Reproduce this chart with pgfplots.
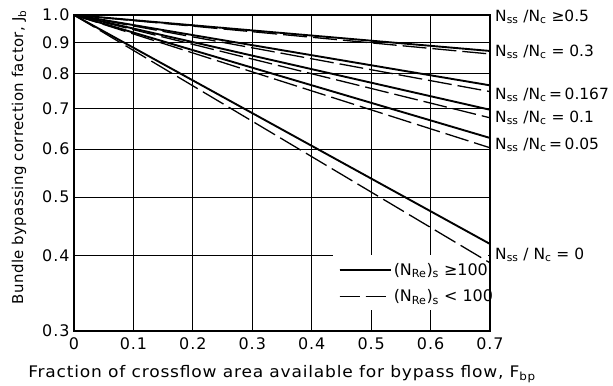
\documentclass[border=0pt]{standalone}
\usepackage{fontspec}
\setmainfont{DejaVu Sans}
\newfontfamily\widefont[LetterSpace=6]{DejaVu Sans}
\newfontfamily\xlabfont[LetterSpace=5,FakeStretch=1.07]{DejaVu Sans}
\newfontfamily\ylabfont[LetterSpace=2.5]{DejaVu Sans}
\usepackage{pgfplots}
\pgfplotsset{compat=1.18}

\begin{document}
\begin{tikzpicture}
\begin{axis}[
    width=416bp, height=316bp, scale only axis,
    ymode=log,
    xmin=0, xmax=0.7, ymin=0.3, ymax=1.0,
    xtick={0,0.1,0.2,0.3,0.4,0.5,0.6,0.7},
    xticklabels={0,0.1,0.2,0.3,0.4,0.5,0.6,0.7},
    ytick={0.3,0.4,0.5,0.6,0.7,0.8,0.9,1.0},
    yticklabels={0.3,0.4,0.5,0.6,0.7,0.8,0.9,1.0},
    minor ytick={},
    grid=major,
    major grid style={black, line width=0.8pt},
    major tick length=0pt,
    axis line style={line width=1.6pt},
    ticklabel style={font=\widefont\fontsize{16}{18}\selectfont},
    xticklabel style={yshift=-3bp},
    yticklabel style={xshift=-1bp},
    xlabel={Fraction of crossflow area available for bypass flow, F\textsubscript{bp}},
    xlabel style={font=\xlabfont\fontsize{16}{18}\selectfont, yshift=-9bp},
    ylabel={Bundle bypassing correction factor, J\textsubscript{b}},
    ylabel style={font=\ylabfont\fontsize{15}{17}\selectfont, at={(ticklabel cs:0.55)}, yshift=9bp},
    clip=false,
    legend style={at={(axis cs:0.44,0.4)}, anchor=north west, draw=none, fill=none,
        font=\fontsize{16}{18}\selectfont, row sep=9bp, yshift=-3.5bp},
    legend cell align=left,
    legend image code/.code={
        \draw[#1] (0bp,0bp) -- (47bp,0bp);
        \path (0bp,0bp) -- (51bp,0bp);
    },
]
% white box behind the key
\fill[white] (axis cs:0.436,0.4) rectangle (axis cs:0.697,0.325);

\addlegendimage{black, line width=2.1pt}
\addlegendentry{(N\textsubscript{Re})\textsubscript{s} ≥100}
\addlegendimage{black, line width=1.3pt, dash pattern=on 20bp off 6bp}
\addlegendentry{(N\textsubscript{Re})\textsubscript{s} < 100}

% Nss/Nc >= 0.5
\addplot[black, line width=1.9pt, forget plot] coordinates {(0,1.0) (0.7,1.0)};
% Nss/Nc = 0.3
\addplot[black, line width=1.9pt, forget plot] coordinates {(0,1.0) (0.7,0.872)};
\addplot[black, line width=1.3pt, dash pattern=on 24bp off 6bp, forget plot] coordinates {(0,1.0) (0.7,0.862)};
% Nss/Nc = 0.167
\addplot[black, line width=1.9pt, forget plot] coordinates {(0,1.0) (0.7,0.765)};
\addplot[black, line width=1.3pt, dash pattern=on 24bp off 6bp, forget plot] coordinates {(0,1.0) (0.7,0.747)};
% Nss/Nc = 0.1
\addplot[black, line width=1.9pt, forget plot] coordinates {(0,1.0) (0.7,0.697)};
\addplot[black, line width=1.3pt, dash pattern=on 24bp off 6bp, forget plot] coordinates {(0,1.0) (0.7,0.676)};
% Nss/Nc = 0.05
\addplot[black, line width=1.9pt, forget plot] coordinates {(0,1.0) (0.7,0.626)};
\addplot[black, line width=1.3pt, dash pattern=on 24bp off 6bp, forget plot] coordinates {(0,1.0) (0.7,0.603)};
% Nss/Nc = 0
\addplot[black, line width=1.9pt, forget plot] coordinates {(0,1.0) (0.7,0.418)};
\addplot[black, line width=1.3pt, dash pattern=on 24bp off 6bp, forget plot] coordinates {(0,1.0) (0.7,0.389)};

% curve labels on the right
\begin{scope}[every node/.style={anchor=west, font=\fontsize{15.5}{18}\selectfont, xshift=5bp, inner sep=0pt}]
\node at (rel axis cs:1,0.993) {N\textsubscript{ss} /N\textsubscript{c} ≥0.5};
\node at (rel axis cs:1,0.883) {N\textsubscript{ss} /N\textsubscript{c} = 0.3};
\node at (rel axis cs:1,0.747) {N\textsubscript{ss} /N\textsubscript{c}\,=\,0.167};
\node at (rel axis cs:1,0.674) {N\textsubscript{ss} /N\textsubscript{c} = 0.1};
\node at (rel axis cs:1,0.589) {N\textsubscript{ss} /N\textsubscript{c}\,=\,0.05};
\node at (rel axis cs:1,0.241) {N\textsubscript{ss} / N\textsubscript{c} = 0};
\end{scope}
% page margins as in the reference
\path (rel axis cs:0,0) ++(-74bp,-55bp) (rel axis cs:1,1) ++(123bp,15bp);
\end{axis}
\end{tikzpicture}
\end{document}
